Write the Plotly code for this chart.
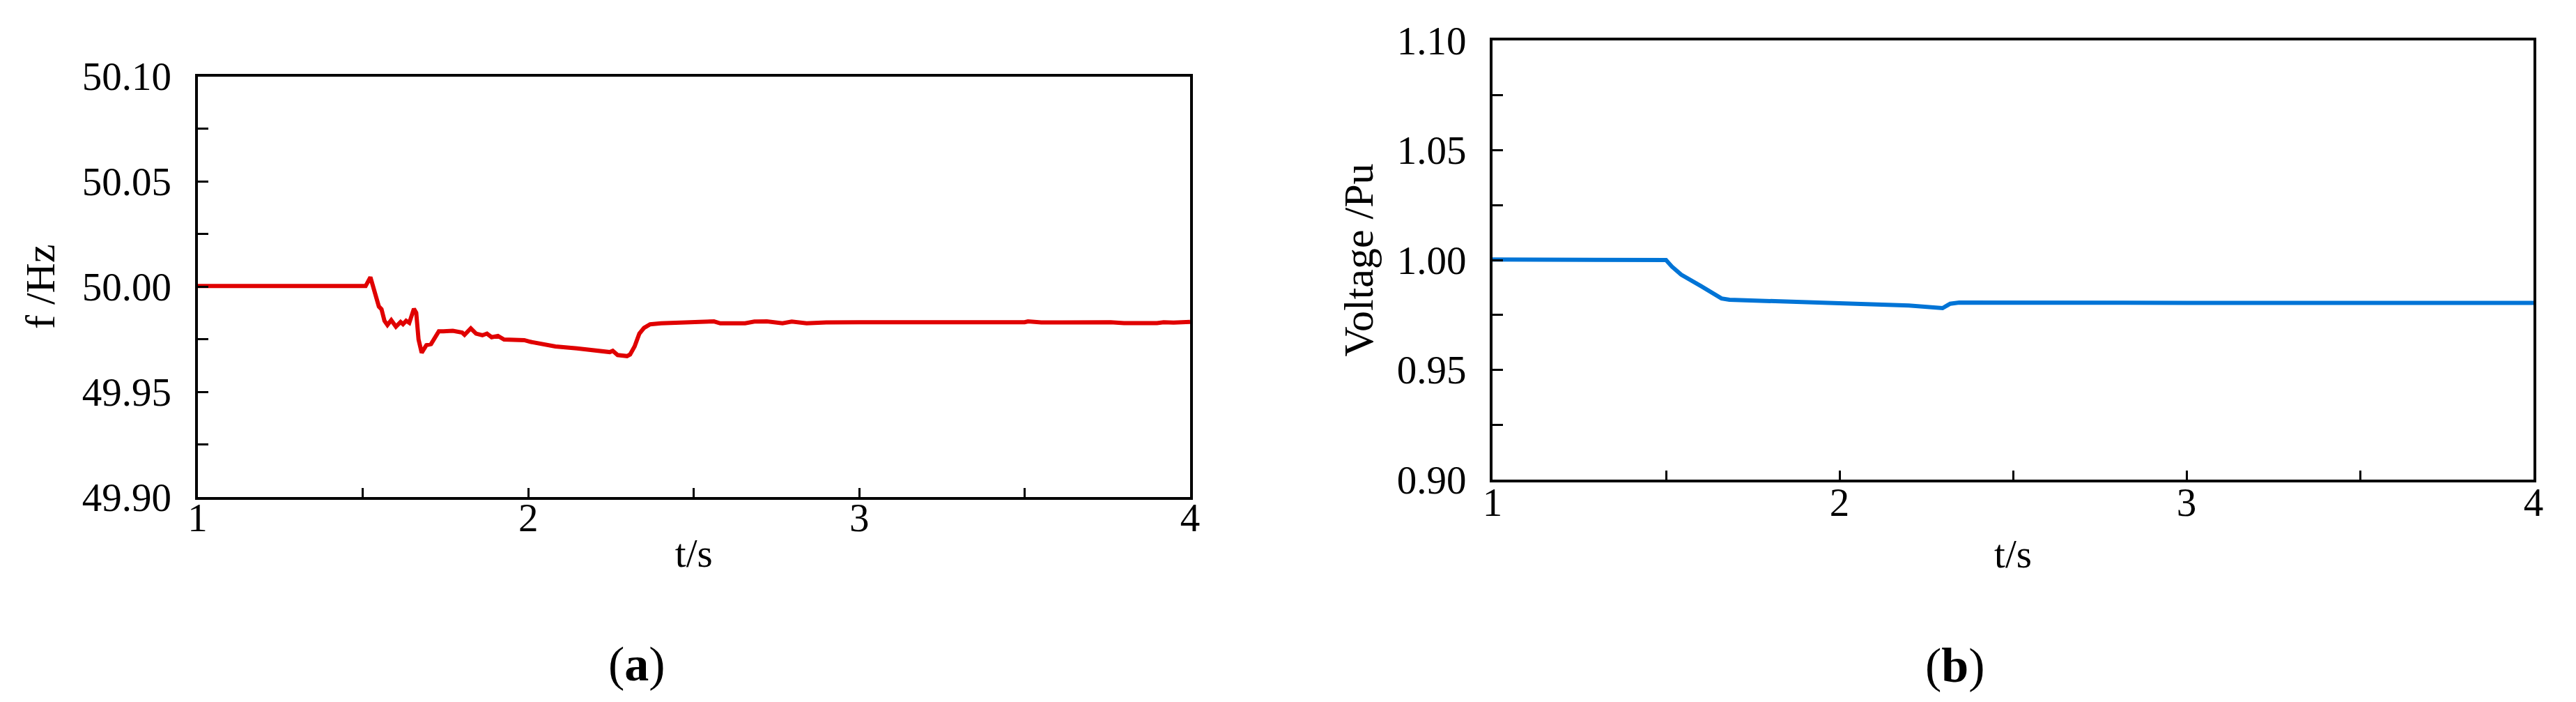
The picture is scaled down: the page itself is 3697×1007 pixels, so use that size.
import plotly.graph_objects as go

# ---- data: panel (a) frequency ----
t_freq = [1.00, 1.20, 1.40, 1.508, 1.5225, 1.537, 1.548, 1.556, 1.565, 1.574, 1.5855, 1.5996,
          1.6137, 1.621, 1.6305, 1.640, 1.654, 1.661, 1.668, 1.6775, 1.6916, 1.7057, 1.717,
          1.7293, 1.743, 1.7716, 1.7998, 1.807, 1.826, 1.842, 1.861, 1.8747, 1.889, 1.908,
          1.9265, 1.9875, 2.006, 2.0817, 2.147, 2.2133, 2.246, 2.255, 2.2697, 2.298, 2.3075,
          2.321, 2.3354, 2.3495, 2.368, 2.401, 2.476, 2.561, 2.58, 2.655, 2.683, 2.721, 2.768,
          2.796, 2.841, 2.90, 3.00, 3.10, 3.20, 3.30, 3.40, 3.50, 3.51, 3.55, 3.60, 3.70, 3.75,
          3.76, 3.80, 3.85, 3.88, 3.90, 3.92, 3.95, 4.00]
f_hz = [50.0003, 50.0003, 50.0003, 50.0003, 50.0045, 49.9970, 49.9906, 49.9893, 49.9838, 49.9818,
        49.9841, 49.9810, 49.9832, 49.9822, 49.9838, 49.9828, 49.9895, 49.9876, 49.9749, 49.9686,
        49.9722, 49.9727, 49.9755, 49.9788, 49.9788, 49.9790, 49.9782, 49.9771, 49.9802, 49.9777,
        49.9769, 49.9777, 49.9760, 49.9766, 49.9749, 49.9746, 49.9738, 49.9716, 49.9707, 49.9692,
        49.9689, 49.9695, 49.9675, 49.9670, 49.9678, 49.9716, 49.9777, 49.9804, 49.9821, 49.9826,
        49.9832, 49.9835, 49.9826, 49.9826, 49.9834, 49.9835, 49.9826, 49.9834, 49.9826, 49.9830,
        49.9831, 49.9830, 49.9831, 49.9830, 49.9831, 49.9831, 49.9835, 49.9830, 49.9831, 49.9830,
        49.9834, 49.9831, 49.9827, 49.9826, 49.9830, 49.9827, 49.9831, 49.9829, 49.9833]

# ---- data: panel (b) voltage ----
t_volt = [1.00, 1.20, 1.40, 1.500, 1.517, 1.530, 1.544, 1.600, 1.647, 1.660, 1.683, 1.800,
          2.000, 2.200, 2.297, 2.310, 2.319, 2.345, 2.500, 3.000, 3.500, 4.000]
v_pu = [1.0002, 1.0001, 1.0001, 1.0000, 0.9970, 0.9955, 0.9933, 0.9882, 0.9833, 0.9825,
        0.9819, 0.9814, 0.9805, 0.9793, 0.9781, 0.9790, 0.9801, 0.9806, 0.9805, 0.9805,
        0.9805, 0.9805]

x_tickvals = [1, 1.5, 2, 2.5, 3, 3.5, 4]
x_ticktext = ["1", "", "2", "", "3", "", "4"]
yf_tickvals = [49.90, 49.925, 49.95, 49.975, 50.00, 50.025, 50.05, 50.075, 50.10]
yf_ticktext = ["49.90", "", "49.95", "", "50.00", "", "50.05", "", "50.10"]
yv_tickvals = [0.90, 0.925, 0.95, 0.975, 1.00, 1.025, 1.05, 1.075, 1.10]
yv_ticktext = ["0.90", "", "0.95", "", "1.00", "", "1.05", "", "1.10"]

W, H = 3697, 1007
FONT = "Liberation Serif, Times New Roman, serif"
FS = 57
FT = 60

fig = go.Figure()
fig.add_trace(go.Scatter(x=t_freq, y=f_hz, mode="lines", xaxis="x", yaxis="y",
                         line=dict(color="#E00000", width=6), showlegend=False))
fig.add_trace(go.Scatter(x=t_volt, y=v_pu, mode="lines", xaxis="x2", yaxis="y2",
                         line=dict(color="#0074D6", width=6), showlegend=False))

def xa(domain, anchor, standoff, title_standoff):
    return dict(domain=domain, anchor=anchor, range=[1, 4], tickmode="array",
                tickvals=x_tickvals, ticktext=x_ticktext, ticks="inside", ticklen=13,
                tickwidth=3, tickcolor="black", showline=True, linewidth=4,
                linecolor="black", mirror=True, showgrid=False, zeroline=False,
                automargin=False, ticklabelstandoff=standoff,
                tickfont=dict(family=FONT, size=FS, color="black"),
                title=dict(text="t/s", font=dict(family=FONT, size=FS, color="black"),
                           standoff=title_standoff))

def ya(domain, anchor, rng, vals, text, title, title_standoff):
    return dict(domain=domain, anchor=anchor, range=rng, tickmode="array",
                tickvals=vals, ticktext=text, ticks="inside", ticklen=15,
                tickwidth=3, tickcolor="black", showline=True, linewidth=4,
                linecolor="black", mirror=True, showgrid=False, zeroline=False,
                automargin=False, ticklabelstandoff=22,
                tickfont=dict(family=FONT, size=FS, color="black"),
                title=dict(text=title, font=dict(family=FONT, size=FT, color="black"),
                           standoff=title_standoff))

fig.update_layout(
    width=W, height=H, autosize=False,
    margin=dict(l=0, r=0, t=0, b=0, pad=0),
    paper_bgcolor="white", plot_bgcolor="white",
    xaxis=xa([275.5 / W, 1700 / W], "y", -23, 1),
    yaxis=ya([1 - 705 / H, 1 - 101.5 / H], "x", [49.90, 50.10], yf_tickvals, yf_ticktext,
             "f /Hz", 21),
    xaxis2=xa([2134 / W, 3628 / W], "y2", -20, 24),
    yaxis2=ya([1 - 680 / H, 1 - 50 / H], "x2", [0.90, 1.10], yv_tickvals, yv_ticktext,
              "Voltage /Pu", 16),
    annotations=[
        dict(text="(<b>a</b>)", x=906 / W, y=1 - 944 / H, xref="paper", yref="paper",
             showarrow=False, xanchor="center", yanchor="middle",
             font=dict(family=FONT, size=70, color="black")),
        dict(text="(<b>b</b>)", x=2798 / W, y=1 - 946 / H, xref="paper", yref="paper",
             showarrow=False, xanchor="center", yanchor="middle",
             font=dict(family=FONT, size=70, color="black")),
    ],
)

fig.write_html("out.html")
